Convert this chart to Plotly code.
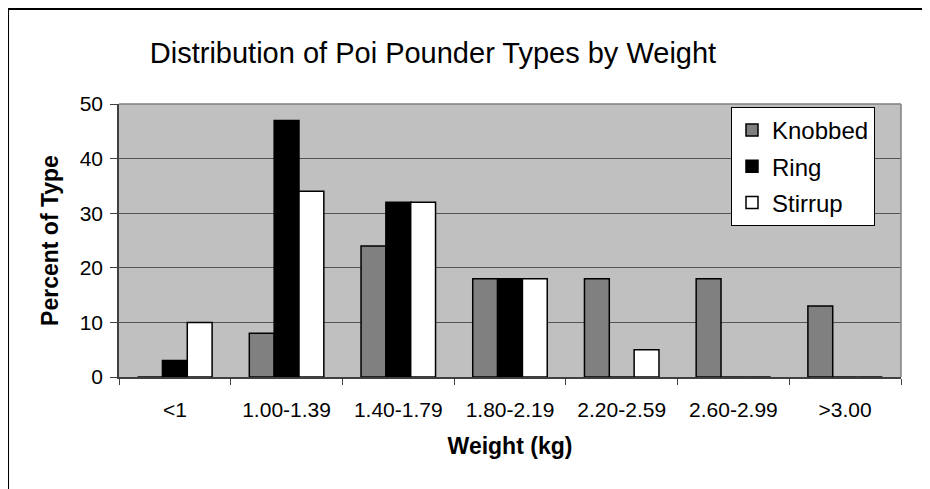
import plotly.graph_objects as go

# Weight classes and percent of each pounder type
categorias = ['<1', '1.00-1.39', '1.40-1.79', '1.80-2.19', '2.20-2.59', '2.60-2.99', '>3.00']
knobbed = [0, 8, 24, 18, 18, 18, 13]
ring = [3, 47, 32, 18, 0, 0, 0]
stirrup = [10, 34, 32, 18, 5, 0, 0]

FONTE = 'Liberation Sans, Arial, sans-serif'
CONTORNO = dict(color='black', width=1.5)

fig = go.Figure()
fig.add_trace(go.Bar(x=categorias, y=knobbed, name='Knobbed', legendgroup='k',
                     marker=dict(color='#808080', line=CONTORNO)))
fig.add_trace(go.Bar(x=categorias, y=ring, name='Ring', legendgroup='r',
                     marker=dict(color='black', line=CONTORNO)))
fig.add_trace(go.Bar(x=categorias, y=stirrup, name='Stirrup', legendgroup='s',
                     marker=dict(color='white', line=CONTORNO)))

# a página tem margem de 8px no body, então tudo é deslocado 8px
fig.update_layout(
    width=930, height=489,
    margin=dict(l=111, r=37, t=96, b=120),
    paper_bgcolor='white',
    plot_bgcolor='#C0C0C0',
    font=dict(family=FONTE, color='black', size=21),
    barmode='group',
    bargap=0.333,
    bargroupgap=0,
    title=dict(text='Distribution of Poi Pounder Types by Weight',
               font=dict(size=29, family=FONTE, color='black'),
               x=425 / 930, xanchor='center', xref='container',
               y=1 - 45 / 489, yanchor='middle', yref='container'),
    legend=dict(x=0.7826, y=0.989, xanchor='left', yanchor='top',
                bgcolor='white', bordercolor='black', borderwidth=1,
                font=dict(size=24, family=FONTE), tracegroupgap=2),
    showlegend=True,
)

fig.update_xaxes(
    tickson='boundaries', ticks='outside', ticklen=6, tickcolor='#404040',
    showline=True, linecolor='#404040', linewidth=1.5, mirror=False,
    tickfont=dict(size=21), ticklabelstandoff=13,
    title=dict(text='<b>Weight (kg)</b>', font=dict(size=23), standoff=18),
)
fig.update_yaxes(
    range=[0, 50], dtick=10, ticks='outside', ticklen=7, tickcolor='#404040',
    showline=True, linecolor='#404040', linewidth=1.5,
    showgrid=True, gridcolor='#555555', gridwidth=1.2,
    zeroline=False,
    tickfont=dict(size=21), ticklabelstandoff=3,
    title=dict(text='<b>Percent of Type</b>', font=dict(size=23), standoff=15),
)

# borda cinza do plot (topo e direita)
fig.add_shape(type='line', xref='paper', yref='paper', x0=0, x1=1, y0=1, y1=1,
              line=dict(color='#808080', width=1.5))
fig.add_shape(type='line', xref='paper', yref='paper', x0=1, x1=1, y0=0, y1=1,
              line=dict(color='#808080', width=1.5))

# moldura externa do gráfico (topo e esquerda)
fig.add_shape(type='line', xref='paper', yref='paper', x0=-0.1419, x1=1.05, y0=1.348, y1=1.348,
              line=dict(color='black', width=2))
fig.add_shape(type='line', xref='paper', yref='paper', x0=-0.1419, x1=-0.1419, y0=-0.45, y1=1.348,
              line=dict(color='black', width=2))

fig.write_html('out.html')
